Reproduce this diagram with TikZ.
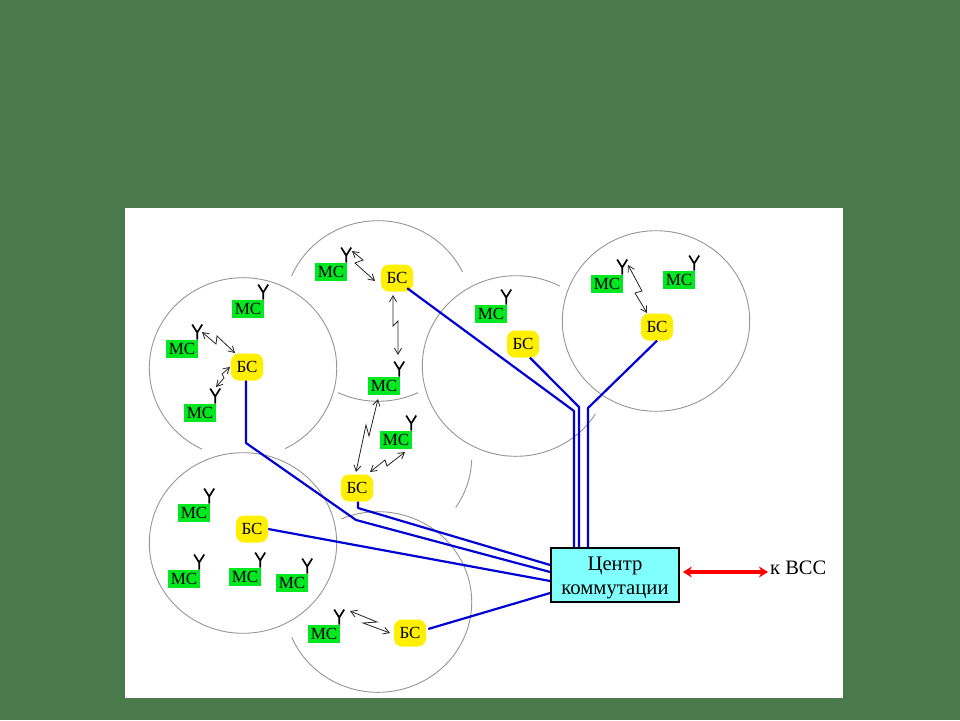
\documentclass[tikz,border=0pt]{standalone}
\usepackage{fontspec}
\setmainfont{Liberation Serif}
\usetikzlibrary{arrows.meta,calc}
\definecolor{bgreen}{RGB}{74,122,76}
\definecolor{mcgreen}{RGB}{0,232,32}
\definecolor{bsyellow}{RGB}{255,240,0}
\definecolor{wire}{RGB}{0,0,214}
\definecolor{cellgray}{RGB}{150,150,150}
\definecolor{boxcyan}{RGB}{128,255,255}
\newcommand{\cellarc}[4]{\draw[cellline] (#1,#2) ++({93.7*cos(#3)},{90.3*sin(#3)}) arc[start angle=#3,end angle=#4,x radius=93.7,y radius=90.3];}
\newcommand{\antenna}[1]{\draw[aerial] ([shift={(-1,0)}]#1.north east) -- ([shift={(-1,-7)}]#1.north east) -- ([shift={(-6,-15)}]#1.north east) ([shift={(-1,-7)}]#1.north east) -- ([shift={(4,-15)}]#1.north east);}
\tikzset{
 cellline/.style={draw=cellgray,line width=0.9pt},
 bsnode/.style={fill=bsyellow,rounded corners=8pt,minimum width=32pt,minimum height=27pt,inner sep=0pt,font=\fontsize{17}{17}\selectfont},
 msnode/.style={fill=mcgreen,minimum width=32pt,minimum height=18.5pt,inner sep=0pt,font=\fontsize{17}{17}\selectfont},
 aerial/.style={draw=black,line width=1.7pt,line join=miter},
 wireline/.style={draw=wire,line width=2.2pt,line join=round},
 zig/.style={draw=black!85,line width=0.8pt,{Straight Barb[length=6pt,width=7pt]}-{Straight Barb[length=6pt,width=7pt]}},
 redarrow/.style={draw=red,line width=3.4pt,{Stealth[length=9pt,width=11pt]}-{Stealth[length=9pt,width=11pt]}},
}
\begin{document}
\begin{tikzpicture}[x=1pt,y=-1pt]
\useasboundingbox (0,0) rectangle (960,720);
\fill[bgreen] (0,0) rectangle (960,720);
\fill[white] (125,208) rectangle (843,698);
% cells
\cellarc{243}{368}{116}{423.4}
\cellarc{378}{311}{202.8}{334.4}
\cellarc{378}{311}{64.7}{115.3}
\cellarc{516}{366}{32}{298}
\cellarc{656}{321}{0}{360}
\cellarc{243}{543}{0}{360}
\cellarc{378}{602}{247}{517}
\cellarc{378}{457}{2}{34}
% base stations
\node[bsnode] (B1) at (247,367) {БС};
\node[bsnode] (B2) at (397,278) {БС};
\node[bsnode] (B3) at (523,344) {БС};
\node[bsnode] (B4) at (657,327) {БС};
\node[bsnode] (B5) at (357,488) {БС};
\node[bsnode] (B6) at (252,529) {БС};
\node[bsnode] (B7) at (410,633) {БС};
% mobile stations
\node[msnode] (M1) at (248,309) {МС};
\node[msnode] (M2) at (182,349) {МС};
\node[msnode] (M3) at (200,413) {МС};
\node[msnode] (M4) at (331,272) {МС};
\node[msnode] (M5) at (384,386) {МС};
\node[msnode] (M6) at (396,440) {МС};
\node[msnode] (M7) at (491,314) {МС};
\node[msnode] (M8) at (607,284) {МС};
\node[msnode] (M9) at (679,280) {МС};
\node[msnode] (M10) at (194,513) {МС};
\node[msnode] (M11) at (184,579) {МС};
\node[msnode] (M12) at (245,577) {МС};
\node[msnode] (M13) at (292,583) {МС};
\node[msnode] (M14) at (324,634) {МС};
\foreach \m in {M1,M2,M3,M4,M5,M6,M7,M8,M9,M10,M11,M12,M13,M14}{\antenna{\m}}
% switching centre
\node[draw=black,line width=1.7pt,fill=boxcyan,minimum width=128pt,minimum height=53.5pt,inner sep=0pt,align=center,font=\fontsize{20.7}{24}\selectfont] (CC) at (615,575) {\rule{0pt}{19pt}Центр\\коммутации};
\node[inner sep=0pt,anchor=west,font=\fontsize{20.5}{20}\selectfont] (VSS) at (770,568) {к ВСС};
% wires
\draw[wireline] ([shift={(-1,0)}]B1.south) -- (246,443) -- (356,520) -- ([shift={(0,-3)}]CC.west);
\draw[wireline] ([shift={(1,0)}]B5.south) -- (358,508) -- ([shift={(0,-10)}]CC.west);
\draw[wireline] ([shift={(15,0)}]B6.east) ++(-15,0) -- ([shift={(0,6)}]CC.west);
\draw[wireline] ([shift={(2,-4)}]B7.east) -- ([shift={(0,18)}]CC.west);
\draw[wireline] ([shift={(-6,-3.5)}]B2.south east) -- (574,411) -- ([shift={(-41,0)}]CC.north);
\draw[wireline] ([shift={(7,0)}]B3.south) -- (579,407) -- ([shift={(-36,0)}]CC.north);
\draw[wireline] (B4.south) -- (588,408) -- ([shift={(-27,0)}]CC.north);
% radio links
\draw[zig] ([shift={(20,-17)}]M2.center) -- (216,344) -- (217,336) -- ([shift={(-12,-14)}]B1.center);
\draw[zig] ([shift={(16,-26)}]M3.center) -- (224,378) -- (222,374) -- ([shift={(-17,0)}]B1.center);
\draw[zig] ([shift={(21,-21)}]M4.center) -- (363,260) -- (355,263) -- ([shift={(-22,3)}]B2.center);
\draw[zig] ([shift={(-4,17)}]B2.center) -- (393,326) -- (398,321) -- ([shift={(14,-31)}]M5.center);
\draw[zig] ([shift={(-6,13)}]M5.center) -- (369,436) -- (366,425) -- ([shift={(-1,-16)}]B5.center);
\draw[zig] ([shift={(13,-16)}]B5.center) -- (385,460) -- (387,466) -- ([shift={(9,12)}]M6.center);
\draw[zig] ([shift={(21,-19)}]M8.center) -- (642,291) -- (635,293) -- ([shift={(-10,-14)}]B4.center);
\draw[zig] ([shift={(26,-23)}]M14.center) -- (377,622) -- (363,623) -- ([shift={(-20,0)}]B7.center);
\draw[redarrow] ([shift={(3,-3)}]CC.east) -- ([shift={(-2,4)}]VSS.west);
\end{tikzpicture}
\end{document}
